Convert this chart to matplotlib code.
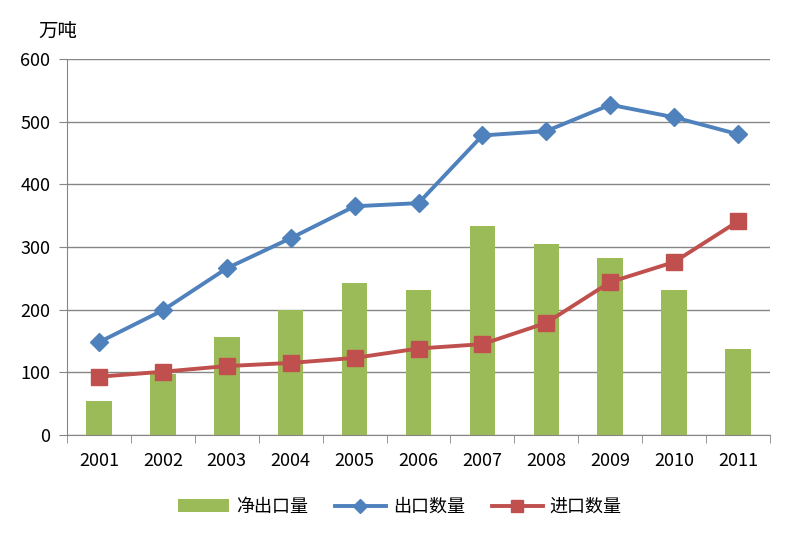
import matplotlib
matplotlib.use('Agg')
import matplotlib.pyplot as plt
import numpy as np

plt.rcParams['font.family'] = ['Noto Sans CJK SC', 'DejaVu Sans']

years = ['2001', '2002', '2003', '2004', '2005', '2006', '2007', '2008', '2009', '2010', '2011']
net_export = [55, 98, 156, 199, 242, 232, 333, 305, 282, 231, 138]
export = [148, 199, 266, 314, 365, 370, 478, 485, 527, 507, 480]
imports = [93, 101, 110, 115, 123, 138, 145, 179, 244, 276, 341]

fig = plt.figure(figsize=(7.94, 5.39), dpi=100)
ax = fig.add_axes([67/794, 1-435/539, (770-67)/794, (435-59)/539])

x = np.arange(len(years))
b = ax.bar(x, net_export, width=0.4, color='#9BBB59', label='净出口量', zorder=2)
l1, = ax.plot(x, export, color='#4F81BD', lw=2.8, marker='D', ms=9, label='出口数量', zorder=3)
l2, = ax.plot(x, imports, color='#C0504D', lw=2.8, marker='s', ms=11, label='进口数量', zorder=3)

ax.set_xlim(-0.5, len(years) - 0.5)
ax.set_ylim(0, 600)
ax.set_yticks(range(0, 601, 100))
ax.yaxis.grid(True, color='#868686', lw=1)
ax.set_axisbelow(True)

ax.set_xticks(x)
ax.set_xticklabels(years)
ax.set_xticks(np.arange(-0.5, len(years)), minor=True)
ax.tick_params(axis='x', which='major', length=0, pad=12, labelsize=13)
ax.tick_params(axis='x', which='minor', length=6, color='#868686')
ax.tick_params(axis='y', length=6, color='#868686', labelsize=13, pad=6)

for s in ['top', 'right']:
    ax.spines[s].set_visible(False)
ax.spines['left'].set_color('#868686')
ax.spines['bottom'].set_color('#868686')

fig.text(38/794, 1-31/539, '万吨', fontsize=14, va='center', ha='left')

fig.legend([b, l1, l2], ['净出口量', '出口数量', '进口数量'], loc='center',
           bbox_to_anchor=(400/794, 1-507/539), ncol=3, markerscale=0.75,
           frameon=False, fontsize=13, handlelength=2.8, handletextpad=0.4,
           columnspacing=1.5)

plt.savefig('out.png', dpi=100)
